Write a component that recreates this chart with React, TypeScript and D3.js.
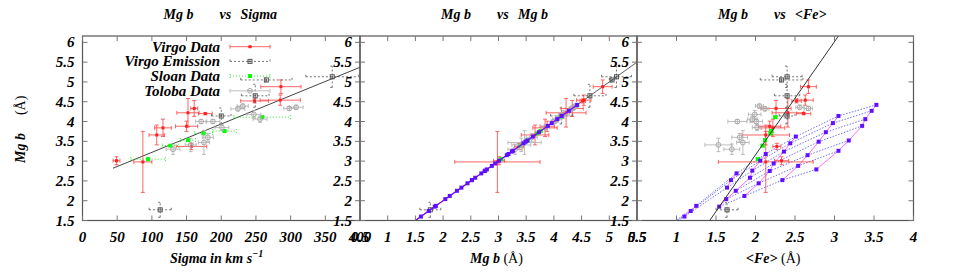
import React from "react";
import * as d3 from "d3";

// each galaxy: velocity dispersion, Mg b index, <Fe> index, with their errors
const virgoData = [
  { sigma: 49, sigmaErr: 5, mgb: 3.01, mgbErr: 0.1, fe: 2.33, feErr: 0.09 },
  { sigma: 87, sigmaErr: 13, mgb: 2.98, mgbErr: 0.77, fe: 2.13, feErr: 0.6 },
  { sigma: 107, sigmaErr: 11, mgb: 3.66, mgbErr: 0.25, fe: 2.13, feErr: 0.3 },
  { sigma: 116, sigmaErr: 12, mgb: 3.84, mgbErr: 0.22, fe: 2.22, feErr: 0.15 },
  { sigma: 150, sigmaErr: 16, mgb: 3.88, mgbErr: 0.13, fe: 2.18, feErr: 0.14 },
  { sigma: 152, sigmaErr: 16, mgb: 4.22, mgbErr: 0.36, fe: 2.41, feErr: 0.2 },
  { sigma: 161, sigmaErr: 5, mgb: 4.33, mgbErr: 0.2, fe: 2.26, feErr: 0.19 },
  { sigma: 177, sigmaErr: 10, mgb: 4.2, mgbErr: 0.03, fe: 2.61, feErr: 0.09 },
  { sigma: 157, sigmaErr: 22, mgb: 3.37, mgbErr: 0.08, fe: 2.27, feErr: 0.05 },
  { sigma: 286, sigmaErr: 29, mgb: 4.88, mgbErr: 0.17, fe: 2.67, feErr: 0.1 },
  { sigma: 248, sigmaErr: 20, mgb: 4.52, mgbErr: 0.05, fe: 2.52, feErr: 0.06 },
  { sigma: 285, sigmaErr: 29, mgb: 4.54, mgbErr: 0.13, fe: 2.63, feErr: 0.1 },
];

const virgoEmission = [
  { sigma: 112, sigmaErr: 16, mgb: 1.77, mgbErr: 0.19, fe: 1.64, feErr: 0.14 },
  { sigma: 265, sigmaErr: 37, mgb: 5.05, mgbErr: 0.05, fe: 2.33, feErr: 0.27 },
  { sigma: 249, sigmaErr: 20, mgb: 4.65, mgbErr: 0.29, fe: 2.4, feErr: 0.16 },
  { sigma: 360, sigmaErr: 38, mgb: 5.13, mgbErr: 0.27, fe: 2.4, feErr: 0.19 },
  { sigma: 200, sigmaErr: 14, mgb: 4.14, mgbErr: 0.2, fe: 2.4, feErr: 0.1 },
];

const sloanData = [
  { sigma: 94.5, sigmaErr: 25, mgb: 3.05, mgbErr: 0.02, fe: 2.03, feErr: 0.02 },
  { sigma: 126.7, sigmaErr: 12, mgb: 3.39, mgbErr: 0.02, fe: 2.09, feErr: 0.02 },
  { sigma: 152, sigmaErr: 11, mgb: 3.53, mgbErr: 0.02, fe: 2.12, feErr: 0.02 },
  { sigma: 174.6, sigmaErr: 13, mgb: 3.7, mgbErr: 0.02, fe: 2.19, feErr: 0.02 },
  { sigma: 204.7, sigmaErr: 17, mgb: 3.76, mgbErr: 0.02, fe: 2.2, feErr: 0.02 },
  { sigma: 259, sigmaErr: 41, mgb: 4.11, mgbErr: 0.02, fe: 2.25, feErr: 0.02 },
];

const tolobaData = [
  { sigma: 130.5, sigmaErr: 10, mgb: 3.3, mgbErr: 0.13, fe: 1.7, feErr: 0.1 },
  { sigma: 156, sigmaErr: 8, mgb: 3.41, mgbErr: 0.17, fe: 1.53, feErr: 0.17 },
  { sigma: 175, sigmaErr: 8, mgb: 3.47, mgbErr: 0.3, fe: 1.84, feErr: 0.08 },
  { sigma: 180.7, sigmaErr: 8, mgb: 3.6, mgbErr: 0.1, fe: 1.8, feErr: 0.1 },
  { sigma: 201, sigmaErr: 10, mgb: 3.85, mgbErr: 0.08, fe: 2.02, feErr: 0.06 },
  { sigma: 171, sigmaErr: 8, mgb: 4.0, mgbErr: 0.05, fe: 1.77, feErr: 0.12 },
  { sigma: 188, sigmaErr: 10, mgb: 4.0, mgbErr: 0.05, fe: 2.01, feErr: 0.08 },
  { sigma: 224, sigmaErr: 10, mgb: 4.32, mgbErr: 0.05, fe: 2.12, feErr: 0.05 },
  { sigma: 231, sigmaErr: 8, mgb: 4.39, mgbErr: 0.05, fe: 2.05, feErr: 0.05 },
  { sigma: 247, sigmaErr: 10, mgb: 4.18, mgbErr: 0.1, fe: 1.99, feErr: 0.08 },
  { sigma: 256, sigmaErr: 10, mgb: 4.06, mgbErr: 0.08, fe: 1.96, feErr: 0.06 },
  { sigma: 308, sigmaErr: 10, mgb: 4.36, mgbErr: 0.05, fe: 2.56, feErr: 0.05 },
  { sigma: 298, sigmaErr: 8, mgb: 4.33, mgbErr: 0.05, fe: 2.67, feErr: 0.05 },
];

// model grid, one row per blue line
const modelFe = [
  [3.53, 3.05, 2.51, 2.13, 1.76, 1.25, 0.79],
  [3.47, 2.98, 2.44, 2.06, 1.69, 1.18, 0.73],
  [3.39, 2.89, 2.36, 1.96, 1.64, 1.1, 0.66],
  [3.35, 2.8, 2.23, 1.93],
  [3.18, 2.66, 2.18, 1.75],
  [3.05, 2.54, 2.04, 1.63],
  [2.77, 2.34, 1.86, 1.54],
];
const modelMgb = [
  [4.42, 4.14, 3.62, 3.18, 2.69, 1.87, 1.21],
  [4.27, 3.96, 3.45, 3.01, 2.52, 1.74, 1.11],
  [4.06, 3.73, 3.24, 2.76, 2.33, 1.6, 1.0],
  [3.89, 3.49, 2.94, 2.58],
  [3.52, 3.15, 2.75, 2.25],
  [3.26, 2.88, 2.44, 2.04],
  [2.79, 2.52, 2.12, 1.85],
];

// straight fits drawn in the first and third panels
const sigmaFit = [[44, 2.82], [400, 5.37]];
const feFit = [[1.42, 1.5], [3.05, 6.16]];

const sigmaTicks = d3.range(0, 401, 50);
const mgbTicks = d3.range(0.5, 5.51, 0.5);
const feTicks = d3.range(0.5, 4.01, 0.5);
const yTicks = d3.range(1.5, 6.01, 0.5);

const W = 969;
const H = 277;
const TOP = 36;
const BOTTOM = 220.5;
const FONT = "'Liberation Serif', 'DejaVu Serif', serif";

const yScale = d3.scaleLinear().domain([1.5, 6.16]).range([BOTTOM, TOP]);
const sigmaScale = d3.scaleLinear().domain([0, 400]).range([82.5, 360]);
const mgbScale = d3.scaleLinear().domain([0.5, 5.5]).range([360, 637]);
const feScale = d3.scaleLinear().domain([0.5, 4]).range([637, 913.5]);

const series = [
  { name: "Virgo Data", data: virgoData, color: "#ff4040", dash: undefined, marker: "dot" },
  { name: "Virgo Emission", data: virgoEmission, color: "#555", dash: "2,2", marker: "box" },
  { name: "Sloan Data", data: sloanData, color: "#00e000", dash: "1,2", marker: "square" },
  { name: "Toloba Data", data: tolobaData, color: "#b0b0b0", dash: undefined, marker: "circle" },
];

const fmt = (v) => `${+v.toFixed(1)}`;

const Marker = ({ kind, x, y, color }) => {
  if (kind === "box")
    return (
      <g>
        <rect x={x - 2} y={y - 2} width={4} height={4} fill="none" stroke={color} strokeWidth={1} />
        <circle cx={x} cy={y} r={0.9} fill={color} />
      </g>
    );
  if (kind === "square") return <rect x={x - 2} y={y - 2} width={4} height={4} fill="#00ff00" />;
  if (kind === "circle") return <circle cx={x} cy={y} r={2.4} fill="none" stroke="#a8a8a8" strokeWidth={1} />;
  return <rect x={x - 1.5} y={y - 1.5} width={3} height={3} fill="#ff2020" />;
};

const ErrorPoint = ({ cx, cy, x0, x1, y0, y1, s }) => {
  const line = { stroke: s.color, strokeWidth: 1, strokeDasharray: s.dash, opacity: 0.8 };
  return (
    <g>
      <line x1={x0} x2={x1} y1={cy} y2={cy} style={line} />
      <line x1={cx} x2={cx} y1={y0} y2={y1} style={line} />
      <line x1={x0} x2={x0} y1={cy - 2} y2={cy + 2} style={line} />
      <line x1={x1} x2={x1} y1={cy - 2} y2={cy + 2} style={line} />
      <line x1={cx - 2} x2={cx + 2} y1={y0} y2={y0} style={line} />
      <line x1={cx - 2} x2={cx + 2} y1={y1} y2={y1} style={line} />
      <Marker kind={s.marker} x={cx} y={cy} color={s.color} />
    </g>
  );
};

const Frame = ({ xScale, xTicks, id }) => {
  const [x0, x1] = xScale.range();
  return (
    <g>
      <rect x={x0} y={TOP} width={x1 - x0} height={BOTTOM - TOP} fill="none" stroke="#555" strokeWidth={1.2} />
      {xTicks.map((t) => (
        <g key={`${id}x${t}`}>
          <line x1={xScale(t)} x2={xScale(t)} y1={BOTTOM} y2={BOTTOM - 5} stroke="#777" />
          <line x1={xScale(t)} x2={xScale(t)} y1={TOP} y2={TOP + 5} stroke="#777" />
          <text x={xScale(t)} y={241.5} textAnchor="middle" fontSize={15}>
            {fmt(t)}
          </text>
        </g>
      ))}
      {yTicks.map((t) => (
        <g key={`${id}y${t}`}>
          <line x1={x0} x2={x0 + 5} y1={yScale(t)} y2={yScale(t)} stroke="#777" />
          <line x1={x1} x2={x1 - 5} y1={yScale(t)} y2={yScale(t)} stroke="#777" />
          <text x={x0 - 8} y={yScale(t) + 5} textAnchor="end" fontSize={15}>
            {fmt(t)}
          </text>
        </g>
      ))}
    </g>
  );
};

const Title = ({ x0, third }) => (
  <g fontSize={14}>
    <text x={x0 + 81} y={19}>Mg b</text>
    <text x={x0 + 137} y={19}>vs</text>
    <text x={x0 + 158} y={19}>{third}</text>
  </g>
);

const Points = ({ xKey, xErrKey, yKey, yErrKey, xScale }) =>
  series.map((s) =>
    s.data.map((d, i) => (
      <ErrorPoint
        key={`${s.name}${i}`}
        s={s}
        cx={xScale(d[xKey])}
        cy={yScale(d[yKey])}
        x0={xScale(d[xKey] - d[xErrKey])}
        x1={xScale(d[xKey] + d[xErrKey])}
        y0={yScale(d[yKey] - d[yErrKey])}
        y1={yScale(d[yKey] + d[yErrKey])}
      />
    ))
  );

const clip = (id, xs) => {
  const [a, b] = xs.range();
  return (
    <clipPath id={id}>
      <rect x={a} y={TOP} width={b - a} height={BOTTOM - TOP} />
    </clipPath>
  );
};

export default function App() {
  const line = d3.line();
  const rows = modelFe.map((r, i) => r.map((f, j) => [feScale(f), yScale(modelMgb[i][j])]));
  const nCols = d3.max(modelFe, (r) => r.length);
  const cols = d3.range(nCols).map((j) =>
    rows.filter((r) => r.length > j).map((r) => r[j])
  );
  const allMgb = modelMgb.flat().sort((a, b) => a - b);

  return (
    <svg
      width={W}
      height={H}
      style={{ position: "absolute", left: 0, top: 0, background: "#fff" }}
      fontFamily={FONT}
      fontWeight="bold"
      fontStyle="italic"
    >
      <defs>
        {clip("c1", sigmaScale)}
        {clip("c2", mgbScale)}
        {clip("c3", feScale)}
      </defs>

      <Title x0={82.5} third="Sigma" />
      <Title x0={360} third="Mg b" />
      <Title x0={637} third="<Fe>" />

      {/* panel 1: Mg b vs sigma */}
      <g clipPath="url(#c1)">
        <path
          d={line(sigmaFit.map(([s, m]) => [sigmaScale(s), yScale(m)]))}
          stroke="#444"
          strokeWidth={1}
          fill="none"
        />
        <Points xKey="sigma" xErrKey="sigmaErr" yKey="mgb" yErrKey="mgbErr" xScale={sigmaScale} />
      </g>

      {/* panel 2: Mg b vs Mg b */}
      <g clipPath="url(#c2)">
        <path
          d={line([[mgbScale(0.5), yScale(0.5)], [mgbScale(5.5), yScale(5.5)]])}
          stroke="#333"
          strokeWidth={0.8}
          fill="none"
        />
        <Points xKey="mgb" xErrKey="mgbErr" yKey="mgb" yErrKey="mgbErr" xScale={mgbScale} />
        <path
          d={line(allMgb.map((m) => [mgbScale(m), yScale(m)]))}
          stroke="#8000ff"
          strokeWidth={1.2}
          fill="none"
        />
        {allMgb.map((m, i) => (
          <rect key={i} x={mgbScale(m) - 2} y={yScale(m) - 2} width={4} height={4} fill="#6010ff" />
        ))}
      </g>

      {/* panel 3: Mg b vs <Fe> with model grid */}
      <g clipPath="url(#c3)">
        {rows.map((r, i) => (
          <path key={`r${i}`} d={line(r)} stroke="#7070ff" strokeWidth={1} strokeDasharray="1.5,1.5" fill="none" />
        ))}
        {cols.map((c, j) => (
          <path key={`c${j}`} d={line(c)} stroke="#ff70ff" strokeWidth={1} fill="none" />
        ))}
        <Points xKey="fe" xErrKey="feErr" yKey="mgb" yErrKey="mgbErr" xScale={feScale} />
        {rows.flat().map(([x, y], i) => (
          <rect key={i} x={x - 2} y={y - 2} width={4} height={4} fill="#6010ff" />
        ))}
        <path
          d={line(feFit.map(([f, m]) => [feScale(f), yScale(m)]))}
          stroke="#333"
          strokeWidth={1}
          fill="none"
        />
      </g>

      <Frame xScale={sigmaScale} xTicks={sigmaTicks} id="p1" />
      <Frame xScale={mgbScale} xTicks={mgbTicks} id="p2" />
      <Frame xScale={feScale} xTicks={feTicks} id="p3" />

      {/* legend */}
      {series.map((s, i) => {
        const cy = 46.7 + i * 14.7;
        return (
          <g key={s.name}>
            <text x={220} y={cy + 5} textAnchor="end" fontSize={15}>
              {s.name}
            </text>
            <ErrorPoint s={s} cx={250} cy={cy} x0={230} x1={270} y0={cy} y1={cy} />
          </g>
        );
      })}

      {/* axis titles */}
      <text transform="translate(25,163) rotate(-90)" fontSize={14}>
        Mg b
        <tspan dx={18} fontWeight="normal" fontStyle="normal">
          (Å)
        </tspan>
      </text>
      <text x={170} y={263} fontSize={14}>
        Sigma in km s
        <tspan dy={-6} fontSize={10}>
          −1
        </tspan>
      </text>
      <text x={470} y={263} fontSize={14}>
        Mg b
        <tspan fontWeight="normal" fontStyle="normal"> (Å)</tspan>
      </text>
      <text x={746} y={263} fontSize={14}>
        {"<Fe>"}
        <tspan fontWeight="normal" fontStyle="normal"> (Å)</tspan>
      </text>
    </svg>
  );
}
